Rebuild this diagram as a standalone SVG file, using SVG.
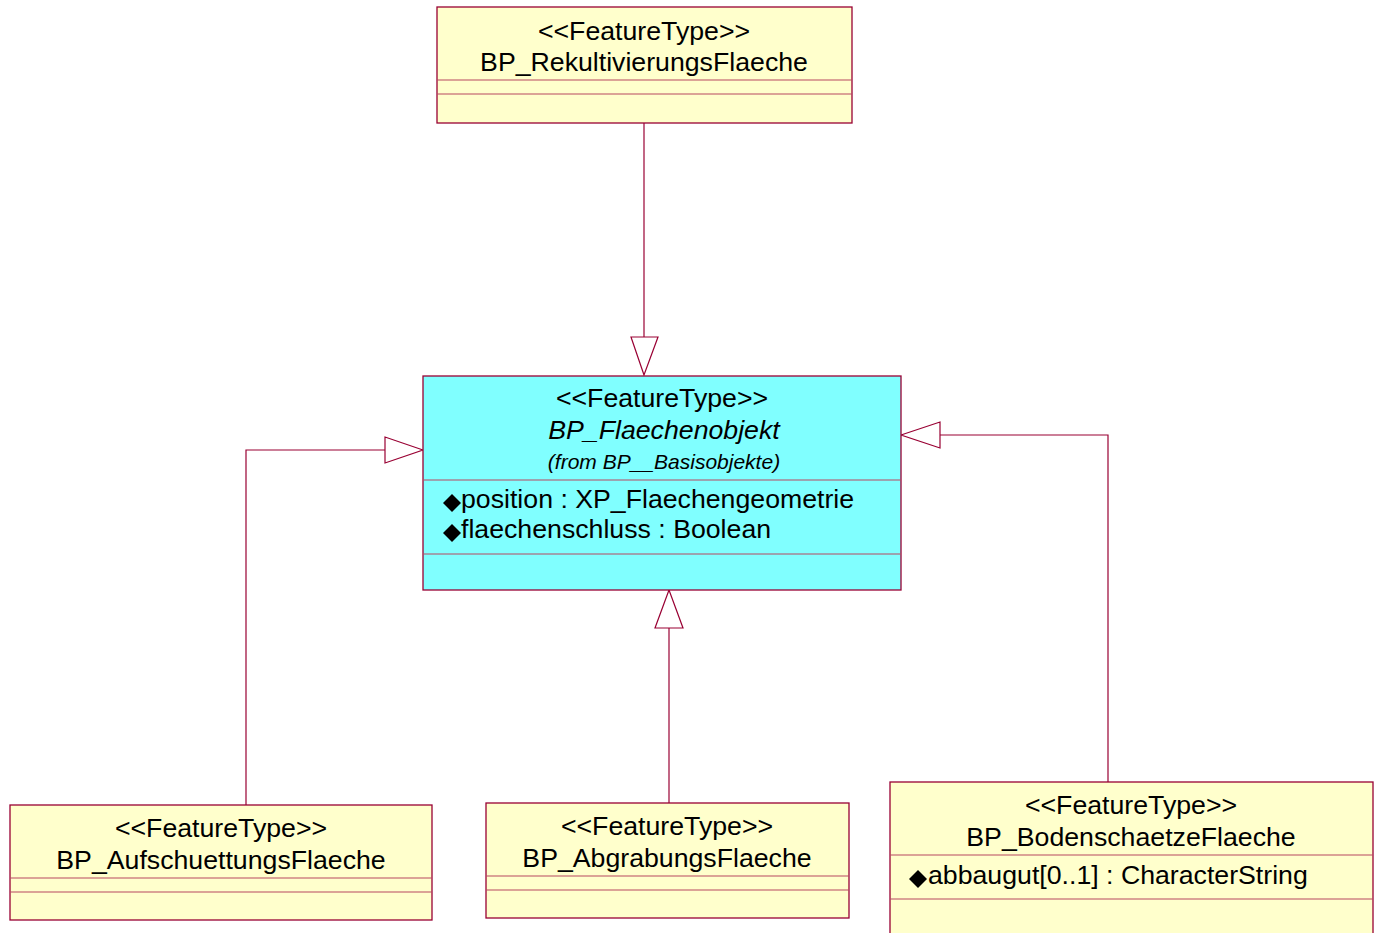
<svg xmlns="http://www.w3.org/2000/svg" width="1376" height="933" viewBox="0 0 1376 933">
<style>
.box{fill:#FFFFCC;stroke:#990033;stroke-width:1.3}
.cbox{fill:#80FFFF;stroke:#990033;stroke-width:1.3}
.sep{stroke:#B84860;stroke-width:1.2}
.t{font-family:"Liberation Sans",Arial,sans-serif;font-size:26.7px;fill:#000}
.c{text-anchor:middle}
.i{font-style:italic}
.s{font-size:21px}
.edge{fill:none;stroke:#990033;stroke-width:1.2}
.head{fill:#FFFFFF;stroke:#990033;stroke-width:1.2}
.dia{fill:#000}
</style>
<rect width="1376" height="933" fill="#FFFFFF"/>
<g id="connectors">
<path class="edge" d="M644,123 V337"/>
<polygon class="head" points="644,375 631,337 658,337"/>
<path class="edge" d="M246,805 V450 H385"/>
<polygon class="head" points="423,450 385,437 385,463"/>
<path class="edge" d="M669,803 V628"/>
<polygon class="head" points="669,590 655,628 683,628"/>
<path class="edge" d="M1108,782 V435 H940"/>
<polygon class="head" points="901,435 940,422 940,448"/>
</g>
<g id="BP_RekultivierungsFlaeche">
<rect class="box" x="437" y="7" width="415" height="116"/>
<line class="sep" x1="437" y1="80" x2="852" y2="80"/>
<line class="sep" x1="437" y1="94" x2="852" y2="94"/>
<text class="t c" x="644" y="40">&lt;&lt;FeatureType&gt;&gt;</text>
<text class="t c" x="644" y="71">BP_RekultivierungsFlaeche</text>
</g>
<g id="BP_Flaechenobjekt">
<rect class="cbox" x="423" y="376" width="478" height="214"/>
<line class="sep" x1="423" y1="480" x2="901" y2="480"/>
<line class="sep" x1="423" y1="554" x2="901" y2="554"/>
<text class="t c" x="662" y="407">&lt;&lt;FeatureType&gt;&gt;</text>
<text class="t c i" x="664" y="439">BP_Flaechenobjekt</text>
<text class="t c i s" x="664" y="469">(from BP__Basisobjekte)</text>
<polygon class="dia" points="452,494 461,503 452,512 443,503"/>
<text class="t" x="461" y="508">position : XP_Flaechengeometrie</text>
<polygon class="dia" points="452,524 461,533 452,542 443,533"/>
<text class="t" x="461" y="538">flaechenschluss : Boolean</text>
</g>
<g id="BP_AufschuettungsFlaeche">
<rect class="box" x="10" y="805" width="422" height="115"/>
<line class="sep" x1="10" y1="878" x2="432" y2="878"/>
<line class="sep" x1="10" y1="892" x2="432" y2="892"/>
<text class="t c" x="221" y="837">&lt;&lt;FeatureType&gt;&gt;</text>
<text class="t c" x="221" y="869">BP_AufschuettungsFlaeche</text>
</g>
<g id="BP_AbgrabungsFlaeche">
<rect class="box" x="486" y="803" width="363" height="115"/>
<line class="sep" x1="486" y1="876" x2="849" y2="876"/>
<line class="sep" x1="486" y1="890" x2="849" y2="890"/>
<text class="t c" x="667" y="835">&lt;&lt;FeatureType&gt;&gt;</text>
<text class="t c" x="667" y="867">BP_AbgrabungsFlaeche</text>
</g>
<g id="BP_BodenschaetzeFlaeche">
<rect class="box" x="890" y="782" width="483" height="160"/>
<line class="sep" x1="890" y1="855" x2="1373" y2="855"/>
<line class="sep" x1="890" y1="899" x2="1373" y2="899"/>
<text class="t c" x="1131" y="814">&lt;&lt;FeatureType&gt;&gt;</text>
<text class="t c" x="1131" y="846">BP_BodenschaetzeFlaeche</text>
<polygon class="dia" points="918,870 927,879 918,888 909,879"/>
<text class="t" x="928" y="884">abbaugut[0..1] : CharacterString</text>
</g>
</svg>
